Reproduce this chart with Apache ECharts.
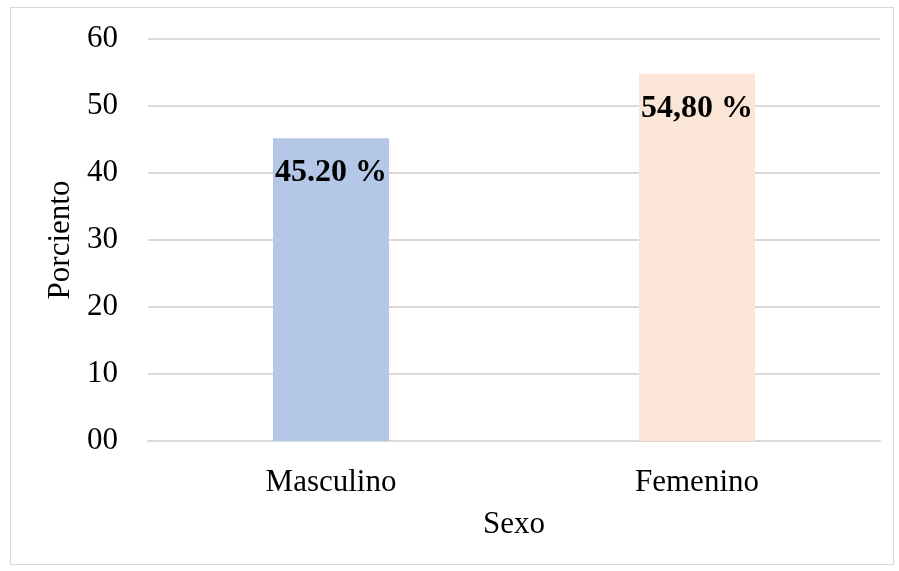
<!DOCTYPE html>
<html>
<head>
<meta charset="utf-8">
<script src="https://cdn.jsdelivr.net/npm/echarts@6/dist/echarts.min.js"></script>
<style>html,body{margin:0;padding:0;background:#fff;}#c{width:899px;height:571px;}</style>
</head>
<body>
<div id="c"></div>
<script>
var categories = ['Masculino', 'Femenino'];
var values = [45.2, 54.8];
var valueLabels = ['45.20 %', '54,80 %'];
var barColors = ['#b4c7e7', '#fbe5d6'];
var yTickLabels = ['00', '10', '20', '30', '40', '50', '60'];

var chart = echarts.init(document.getElementById('c'));
var font = '"Liberation Serif", "Times New Roman", serif';
chart.setOption({
  animation: false,
  textStyle: { fontFamily: font },
  graphic: [{
    type: 'rect', shape: { x: 10.5, y: 7.5, width: 883, height: 557 },
    style: { fill: 'none', stroke: '#d9d9d9', lineWidth: 1 }, silent: true
  }],
  grid: { left: 148, right: 19, top: 39, bottom: 130 },
  xAxis: {
    type: 'category', data: categories,
    name: 'Sexo', nameLocation: 'middle', nameGap: 68,
    nameTextStyle: { fontFamily: font, fontSize: 31, color: '#000' },
    axisLine: { lineStyle: { color: '#d9d9d9', width: 2 } },
    axisTick: { show: false },
    axisLabel: { fontFamily: font, fontSize: 31, color: '#000', margin: 26 }
  },
  yAxis: {
    type: 'value', min: 0, max: 60, interval: 10,
    name: 'Porciento', nameLocation: 'middle', nameGap: 72,
    nameTextStyle: { fontFamily: font, fontSize: 31, color: '#000' },
    axisLine: { show: false }, axisTick: { show: false },
    splitLine: { lineStyle: { color: '#d9d9d9', width: 2 } },
    axisLabel: {
      fontFamily: font, fontSize: 31, color: '#000', margin: 30,
      formatter: function (v) { return yTickLabels[Math.round(v / 10)]; }
    }
  },
  series: [{
    type: 'bar', barWidth: 116,
    data: values.map(function (v, i) { return { value: v, itemStyle: { color: barColors[i] } }; }),
    label: {
      show: true, position: 'insideTop', distance: 19,
      fontFamily: font, fontSize: 32, fontWeight: 'bold', color: '#000',
      formatter: function (p) { return valueLabels[p.dataIndex]; }
    }
  }]
});
</script>
</body>
</html>
